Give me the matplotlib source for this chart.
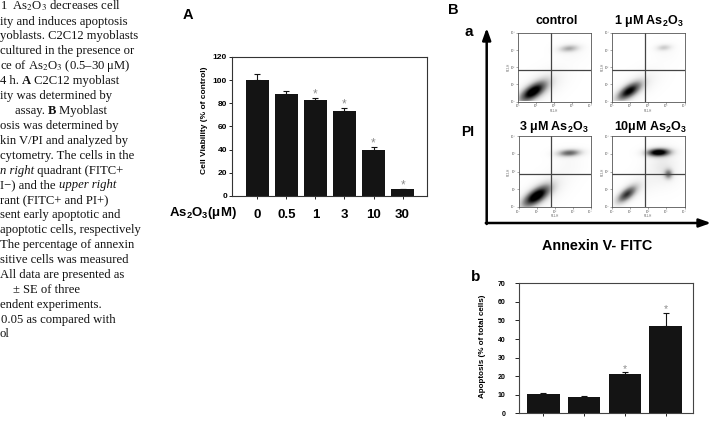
import numpy as np
import matplotlib
matplotlib.use('Agg')
import matplotlib.pyplot as plt

plt.rcParams['font.family'] = ['Liberation Sans', 'DejaVu Sans']
plt.rcParams['mathtext.fontset'] = 'custom'
plt.rcParams['mathtext.rm'] = 'Liberation Sans'
plt.rcParams['mathtext.bf'] = 'Liberation Sans:bold'
plt.rcParams['mathtext.it'] = 'Liberation Sans:italic'

# ---- data ----
doses = ['0', '0.5', '1', '3', '10', '30']
viability = [100, 88, 82.5, 73, 39.5, 6]
viability_err = [5.3, 2.6, 2.0, 2.8, 2.8, 0.3]
viability_sig = [False, False, True, True, True, True]

apoptosis = [10.6, 8.7, 21.2, 47.2]
apoptosis_err = [0.5, 0.4, 0.8, 7.0]
apoptosis_sig = [False, False, True, True]

flow_titles = ['control',
               r'1 μM As$_\mathbf{2}$O$_\mathbf{3}$',
               r'3 μM As$_\mathbf{2}$O$_\mathbf{3}$',
               r'10μM As$_\mathbf{2}$O$_\mathbf{3}$']
decade_labels = ['10⁰', '10¹', '10²', '10³', '10⁴']

# cell populations (log10 annexin, log10 PI, spread along, spread across, angle, density)
control_cells = [(0.8, 0.52, 0.62, 0.28, 36, 1.7), (1.5, 0.95, 0.9, 0.5, 35, 0.2),
                 (2.8, 3.05, 0.4, 0.15, 5, 0.65), (2.9, 2.9, 0.6, 0.4, 0, 0.07)]
low_dose_cells = [(0.92, 0.55, 0.56, 0.25, 36, 1.55), (1.6, 1.0, 0.85, 0.45, 35, 0.16),
                  (2.85, 3.1, 0.3, 0.13, 5, 0.45), (2.9, 2.9, 0.5, 0.4, 0, 0.06)]
mid_dose_cells = [(0.95, 0.6, 0.64, 0.28, 35, 1.75), (1.6, 1.0, 0.9, 0.5, 35, 0.17),
                  (2.8, 3.05, 0.48, 0.15, 3, 1.05), (2.8, 2.5, 0.6, 0.5, 0, 0.07)]
high_dose_cells = [(0.8, 0.7, 0.48, 0.22, 40, 1.3), (2.55, 3.08, 0.46, 0.16, 2, 1.8),
                   (3.1, 1.85, 0.17, 0.2, 0, 0.85), (2.8, 2.3, 0.6, 0.7, 0, 0.25),
                   (1.5, 1.2, 0.7, 0.45, 30, 0.12)]
flow_cells = [control_cells, low_dose_cells, mid_dose_cells, high_dose_cells]
gate_x, gate_y = 1.8, 1.85

caption_lines = [
    (0, [('1  As$_2$O$_3$ decreases cell', 'r')]),
    (0, [('ity and induces apoptosis', 'r')]),
    (0, [('yoblasts. C2C12 myoblasts', 'r')]),
    (0.5, [('cultured in the presence or', 'r')]),
    (0, [('ce of As$_2$O$_3$ (0.5–30 μM)', 'r')]),
    (0, [('4 h. ', 'r'), ('A', 'b'), (' C2C12 myoblast', 'r')]),
    (0, [('ity was determined by', 'r')]),
    (15, [('assay. ', 'r'), ('B', 'b'), (' Myoblast', 'r')]),
    (0, [('osis was determined by', 'r')]),
    (0, [('kin V/PI and analyzed by', 'r')]),
    (0, [('cytometry. The cells in the', 'r')]),
    (0, [('n right', 'i'), (' quadrant (FITC+', 'r')]),
    (0, [('I−) and the ', 'r'), ('upper right', 'i')]),
    (0, [('rant (FITC+ and PI+)', 'r')]),
    (0, [('sent early apoptotic and', 'r')]),
    (0, [('apoptotic cells, respectively', 'r')]),
    (0, [('The percentage of annexin', 'r')]),
    (0, [('sitive cells was measured', 'r')]),
    (0, [('All data are presented as', 'r')]),
    (13, [('± SE of three', 'r')]),
    (0, [('endent experiments.', 'r')]),
    (1, [('0.05 as compared with', 'r')]),
    (0, [('ol', 'r')]),
]

W, H = 712, 425
fig = plt.figure(figsize=(W / 100, H / 100), dpi=100)


def box(l, t, r, b):
    return [l / W, 1 - b / H, (r - l) / W, (b - t) / H]


# overlay in pixel coordinates for free text and arrows
ov = fig.add_axes([0, 0, 1, 1], zorder=5)
ov.set_xlim(0, W)
ov.set_ylim(H, 0)
ov.axis('off')

serif = ['Liberation Serif', 'DejaVu Serif']
styles = {'r': dict(), 'i': dict(style='italic'), 'b': dict(weight='bold')}
for i, (x0, segs) in enumerate(caption_lines):
    y = 9.6 + 14.9 * i
    prev = None
    for txt, st in segs:
        kw = dict(fontsize=9.1, family=serif, math_fontfamily='stix', color='#111111', **styles[st])
        if prev is None:
            prev = ov.text(x0, y, txt, va='baseline', ha='left', **kw)
        else:
            prev = ov.annotate(txt, xy=(1, 0), xycoords=prev, va='bottom', ha='left', **kw)

# ---- panel A ----
axA = fig.add_axes(box(232, 57, 427, 196))
xa = np.arange(len(doses))
axA.bar(xa, viability, width=0.8, color='#141414')
axA.errorbar(xa, viability, yerr=[np.zeros(len(xa)), viability_err], fmt='none',
             ecolor='#141414', elinewidth=0.8, capsize=2.2, capthick=0.8)
for x, v, e, s in zip(xa, viability, viability_err, viability_sig):
    if s:
        axA.text(x, v + e + 0.3, '*', ha='center', va='baseline', fontsize=8.5, color='#8c8c8c')
axA.set_xlim(-0.87, 5.84)
axA.set_ylim(0, 120)
axA.set_yticks(range(0, 121, 20))
axA.set_xticks(xa)
axA.set_xticklabels(doses, fontsize=9.5, fontweight='bold')
for lab in axA.get_yticklabels():
    lab.set_fontsize(6)
    lab.set_fontweight('bold')
axA.tick_params(axis='y', length=2.5, width=0.6, pad=1)
axA.tick_params(axis='x', length=2.5, width=0.6, pad=6.8)
for sp in axA.spines.values():
    sp.set_linewidth(0.8)
    sp.set_color('#333333')

ov.text(204, 120, 'Cell Viability (% of control)', rotation=90, ha='center', va='center',
        fontsize=6, fontweight='bold')
ov.text(237, 213, r'As$_\mathbf{2}$O$_\mathbf{3}$(μM)', ha='right', va='center',
        fontsize=9.5, fontweight='bold')
ov.text(187.5, 14.5, 'A', ha='center', va='center', fontsize=10.5, fontweight='bold')

# ---- panel B a: flow cytometry ----
ov.text(453, 10, 'B', ha='center', va='center', fontsize=10.5, fontweight='bold')
ov.text(469, 32, 'a', ha='center', va='center', fontsize=11, fontweight='bold')
ov.text(468, 132, 'PI', ha='center', va='center', fontsize=10, fontweight='bold')
ov.text(597, 246, 'Annexin V- FITC', ha='center', va='center', fontsize=10.4, fontweight='bold')
ov.annotate('', xy=(486.7, 28), xytext=(486.7, 224),
            arrowprops=dict(arrowstyle='-|>,head_length=0.7,head_width=0.25', lw=1.8,
                            color='k', shrinkA=0, shrinkB=0))
ov.annotate('', xy=(711, 223), xytext=(485.8, 223),
            arrowprops=dict(arrowstyle='-|>,head_length=0.7,head_width=0.25', lw=1.8,
                            color='k', shrinkA=0, shrinkB=0))

flow_boxes = [(518, 33, 590.5, 101.5), (612, 33, 684.5, 101.5),
              (518.5, 136, 590.5, 207), (612, 136, 684.5, 207)]
title_pos = [(556.5, 21), (648.5, 21), (554, 127), (651, 127)]
grid = np.linspace(0, 4, 240)
gx, gy = np.meshgrid(grid, grid)
for bx, cells, title, tp in zip(flow_boxes, flow_cells, flow_titles, title_pos):
    ax = fig.add_axes(box(*bx))
    dens = np.zeros_like(gx)
    for cx, cy, su, sv, ang, w in cells:
        a = np.deg2rad(ang)
        dx, dy = gx - cx, gy - cy
        u = dx * np.cos(a) + dy * np.sin(a)
        v = -dx * np.sin(a) + dy * np.cos(a)
        dens += w * np.exp(-0.5 * ((u / su) ** 2 + (v / sv) ** 2))
    ax.imshow(dens, extent=(0, 4, 0, 4), origin='lower', cmap='Greys', vmin=0, vmax=1.6,
              interpolation='bilinear', aspect='auto')
    ax.axvline(gate_x, color='#444444', lw=0.9)
    ax.axhline(gate_y, color='#444444', lw=0.9)
    ax.set_xlim(0, 4)
    ax.set_ylim(0, 4)
    ax.set_xticks(range(5))
    ax.set_yticks(range(5))
    ax.set_xticklabels(decade_labels, fontsize=2.2, color='#666666')
    ax.set_yticklabels(decade_labels, fontsize=2.2, color='#666666')
    ax.tick_params(length=1.5, width=0.4, pad=0.5, colors='#666666')
    ax.set_xlabel('FL1-H', fontsize=2.2, color='#666666', labelpad=0.3)
    ax.set_ylabel('FL2-H', fontsize=2.2, color='#666666', labelpad=0.3)
    for sp in ax.spines.values():
        sp.set_linewidth(0.6)
        sp.set_color('#555555')
    ov.text(tp[0], tp[1], title, ha='center', va='center', fontsize=9, fontweight='bold')

# ---- panel B b ----
ov.text(475.5, 277, 'b', ha='center', va='center', fontsize=11, fontweight='bold')
axb = fig.add_axes(box(519, 283.3, 693, 413.3))
xb = np.arange(len(apoptosis))
axb.bar(xb, apoptosis, width=0.8, color='#141414')
axb.errorbar(xb, apoptosis, yerr=[np.zeros(len(xb)), apoptosis_err], fmt='none',
             ecolor='#141414', elinewidth=0.8, capsize=2.5, capthick=0.8)
for x, v, e, s in zip(xb, apoptosis, apoptosis_err, apoptosis_sig):
    if s:
        axb.text(x, v + e + 0.2, '*', ha='center', va='baseline', fontsize=7.5, color='#8c8c8c')
axb.set_xlim(-0.6, 3.67)
axb.set_ylim(0, 70)
axb.set_yticks(range(0, 71, 10))
axb.set_xticks(xb)
axb.set_xticklabels([])
for lab in axb.get_yticklabels():
    lab.set_fontsize(5)
    lab.set_fontweight('bold')
axb.tick_params(axis='y', length=3, width=0.6, pad=6.5)
axb.tick_params(axis='x', length=2.5, width=0.6)
for sp in axb.spines.values():
    sp.set_linewidth(0.8)
    sp.set_color('#444444')
ov.text(483, 346, 'Apoptosis (% of total cells)', rotation=90, ha='center', va='center',
        fontsize=5.8, fontweight='bold')

fig.savefig('out.png', dpi=100)
